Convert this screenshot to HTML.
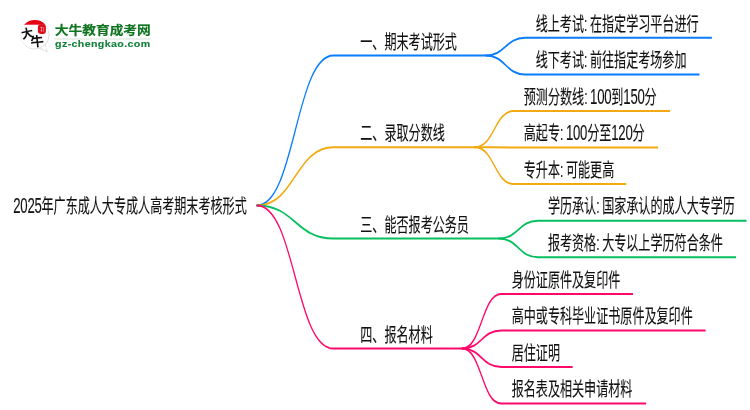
<!DOCTYPE html>
<html lang="zh-CN">
<head>
<meta charset="utf-8">
<title>2025年广东成人大专成人高考期末考核形式</title>
<style>
html,body{margin:0;padding:0;background:#fff;}
body{width:750px;height:410px;overflow:hidden;}
svg{display:block;will-change:transform;}
.t{font-family:"Liberation Sans","Noto Sans CJK SC",sans-serif;font-size:19.6px;fill:#111;stroke:#111;stroke-width:0.12px;word-spacing:-1.2px;}
.d{font-size:21.4px;letter-spacing:-0.45px;}
.ln path{fill:none;stroke-width:2;stroke-linecap:round;stroke-linejoin:round;}
</style>
</head>
<body>
<svg width="750" height="410" viewBox="0 0 750 410">
<rect width="750" height="410" fill="#fff"/>
<g class="ln" transform="scale(0.605,1)">
<path d="M424.8,205.4 C488.0,205.4 488.0,55.6 551.2,55.6 L803.3,55.6" stroke="#0a7cff"/>
<path d="M803.3,55.6 C835.5,55.6 835.5,37.8 867.8,37.8 L1175.9,37.8" stroke="#0a7cff"/>
<path d="M803.3,55.6 C835.5,55.6 835.5,74.4 867.8,74.4 L1155.4,74.4" stroke="#0a7cff"/>
<path d="M424.8,205.4 C488.0,205.4 488.0,147.2 551.2,147.2 L785.0,147.2" stroke="#f3aa12"/>
<path d="M785.0,147.2 C817.2,147.2 817.2,111.0 849.4,111.0 L1106.8,111.0" stroke="#f3aa12"/>
<path d="M785.0,147.2 C817.2,147.2 817.2,147.5 849.4,147.5 L1086.9,147.5" stroke="#f3aa12"/>
<path d="M785.0,147.2 C817.2,147.2 817.2,184.1 849.4,184.1 L1034.4,184.1" stroke="#f3aa12"/>
<path d="M424.8,205.4 C488.0,205.4 488.0,238.6 551.2,238.6 L824.6,238.6" stroke="#06bf5f"/>
<path d="M824.6,238.6 C856.9,238.6 856.9,220.7 889.1,220.7 L1233.1,220.7" stroke="#06bf5f"/>
<path d="M824.6,238.6 C856.9,238.6 856.9,257.3 889.1,257.3 L1215.9,257.3" stroke="#06bf5f"/>
<path d="M424.8,205.4 C488.0,205.4 488.0,348.6 551.2,348.6 L764.0,348.6" stroke="#ff0a6c"/>
<path d="M764.0,348.6 C796.2,348.6 796.2,293.9 828.4,293.9 L1045.6,293.9" stroke="#ff0a6c"/>
<path d="M764.0,348.6 C796.2,348.6 796.2,330.4 828.4,330.4 L1165.6,330.4" stroke="#ff0a6c"/>
<path d="M764.0,348.6 C796.2,348.6 796.2,367.0 828.4,367.0 L945.8,367.0" stroke="#ff0a6c"/>
<path d="M764.0,348.6 C796.2,348.6 796.2,403.6 828.4,403.6 L1067.3,403.6" stroke="#ff0a6c"/>
</g>
<g>
<text class="t" transform="translate(360.3,48.8) scale(0.6163265306122448,1)">一、期末考试形式</text>
<text class="t" transform="translate(535.7,30.5) scale(0.6163265306122448,1)">线上考试: 在指定学习平台进行</text>
<text class="t" transform="translate(535.7,67.1) scale(0.6163265306122448,1)">线下考试: 前往指定考场参加</text>
<text class="t" transform="translate(360.3,140.4) scale(0.6163265306122448,1)">二、录取分数线</text>
<text class="t" transform="translate(523.8,103.7) scale(0.6163265306122448,1)">预测分数线: <tspan class="d">100</tspan>到<tspan class="d">150</tspan>分</text>
<text class="t" transform="translate(523.8,140.2) scale(0.6163265306122448,1)">高起专: <tspan class="d">100</tspan>分至<tspan class="d">120</tspan>分</text>
<text class="t" transform="translate(523.8,176.8) scale(0.6163265306122448,1)">专升本: 可能更高</text>
<text class="t" transform="translate(360.3,231.8) scale(0.6163265306122448,1)">三、能否报考公务员</text>
<text class="t" transform="translate(547.9,213.4) scale(0.6163265306122448,1)">学历承认: 国家承认的成人大专学历</text>
<text class="t" transform="translate(547.9,250.0) scale(0.6163265306122448,1)">报考资格: 大专以上学历符合条件</text>
<text class="t" transform="translate(360.3,341.8) scale(0.6163265306122448,1)">四、报名材料</text>
<text class="t" transform="translate(511.7,286.6) scale(0.6163265306122448,1)">身份证原件及复印件</text>
<text class="t" transform="translate(511.7,323.1) scale(0.6163265306122448,1)">高中或专科毕业证书原件及复印件</text>
<text class="t" transform="translate(511.7,359.7) scale(0.6163265306122448,1)">居住证明</text>
<text class="t" transform="translate(511.7,396.3) scale(0.6163265306122448,1)">报名表及相关申请材料</text>
<text class="t" transform="translate(13.3,213.2) scale(0.6163265306122448,1)"><tspan class="d">2025</tspan>年广东成人大专成人高考期末考核形式</text>
</g>
<g id="logo">
<defs>
<clipPath id="bub"><circle cx="34.8" cy="34.8" r="14.7"/></clipPath>
<linearGradient id="bs" x1="0" y1="0" x2="1" y2="1"><stop offset="0" stop-color="#f7f7f7"/><stop offset="0.5" stop-color="#ececec"/><stop offset="1" stop-color="#c9c9c9"/></linearGradient>
</defs>
<path d="M45.6,44.6 C45.4,47.2 46.2,49.6 47.4,51.6 C44.8,50.6 42.4,49.6 40.2,48.6 Z" fill="#fff" stroke="#cfcfcf" stroke-width="0.7" stroke-linejoin="round"/>
<circle cx="34.8" cy="34.8" r="14.3" fill="#fff" stroke="url(#bs)" stroke-width="0.9"/>
<path d="M44.9,44.9 L46.6,50.6 L40.8,48.2 Z" fill="#fff"/>
<rect x="19" y="18" width="34" height="6.7" fill="#e50012" clip-path="url(#bub)"/>
<rect x="37.9" y="24.2" width="8.0" height="9.8" rx="3.2" fill="#df0a1a"/>
<path d="M40.2,27.6 h2.4 M41.6,26.6 v5.4 M43.6,27.2 v4.6 M40.4,30.4 h1.8" stroke="#f3b4b8" stroke-width="0.6" fill="none"/>
<text x="21.0" y="37.8" font-family='"Liberation Sans","Noto Sans CJK SC",sans-serif' font-weight="700" font-size="12.2" fill="#111" transform="rotate(-12 27 33)">大</text>
<text x="30.5" y="46.4" font-family='"Liberation Sans","Noto Sans CJK SC",sans-serif' font-weight="700" font-size="13.4" fill="#111" transform="rotate(-6 37 41)">牛</text>
<text transform="translate(54.7,34.5) scale(1.10,1)" font-family='"Liberation Sans","Noto Sans CJK SC",sans-serif' font-weight="bold" font-size="12.5" fill="#0f7420" stroke="#0f7420" stroke-width="0.18">大牛教育成考网</text>
<rect x="54.5" y="38.5" width="96" height="1" fill="#d3e3d6"/>
<text transform="translate(55.1,47.45) scale(1.13,1)" font-family='"Liberation Sans",sans-serif' font-weight="bold" font-size="9.4" letter-spacing="0.34" fill="#12803a" stroke="#12803a" stroke-width="0.12">gz-chengkao.com</text>
</g>

</svg>
</body>
</html>
